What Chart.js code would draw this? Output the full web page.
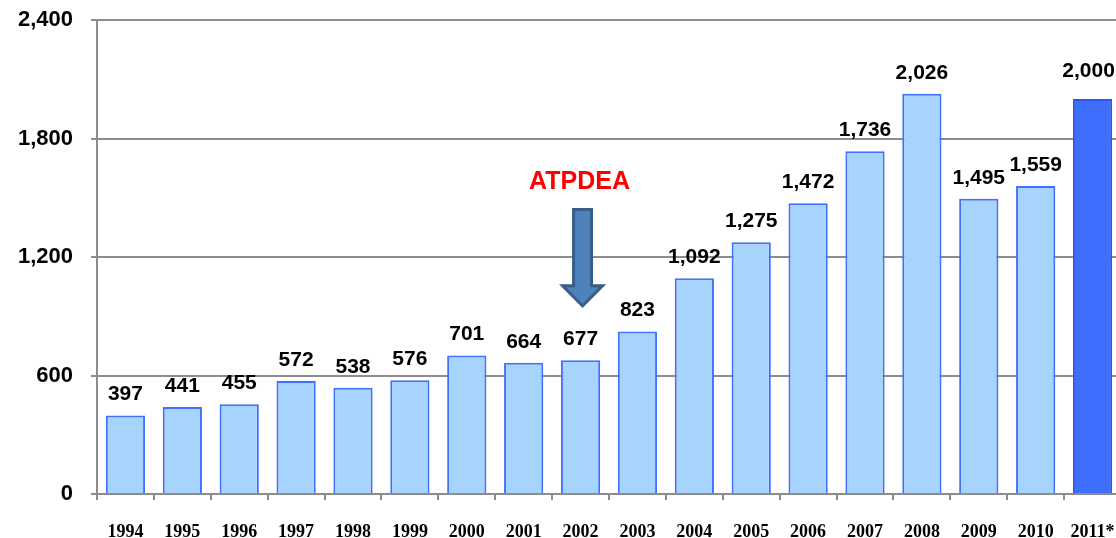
<!DOCTYPE html>
<html>
<head>
<meta charset="utf-8">
<script src="https://cdn.jsdelivr.net/npm/chart.js@4"></script>
<style>
  html, body { margin: 0; padding: 0; background: #fff; }
  #wrap { width: 1116px; height: 538px; overflow: hidden; }
  #inner { width: 1121px; height: 538px; }
</style>
</head>
<body>
<div id="wrap"><div id="inner"><canvas id="exportsChart"></canvas></div></div>
<script>
const years = ["1994", "1995", "1996", "1997", "1998", "1999", "2000", "2001", "2002",
  "2003", "2004", "2005", "2006", "2007", "2008", "2009", "2010", "2011*"];
const exportValues = [397, 441, 455, 572, 538, 576, 701, 664, 677,
  823, 1092, 1275, 1472, 1736, 2026, 1495, 1559, 2000];
const yTicks = [0, 600, 1200, 1800, 2400];
const noteLabel = "ATPDEA";
const noteYear = "2002";

const lightFill = "#a6d4fc";
const lightBorder = "#4170ff";
const darkFill = "#3f6fff";
const darkBorder = "#2f55f0";
const lastIdx = years.length - 1;

const fmt = (v) => v.toLocaleString("en-US");

// numbers above each bar
const valueLabels = {
  id: "valueLabels",
  afterDatasetsDraw(chart) {
    const ctx = chart.ctx;
    const meta = chart.getDatasetMeta(0);
    ctx.save();
    ctx.font = "bold 21px 'Liberation Sans', Arial, sans-serif";
    ctx.fillStyle = "#000";
    ctx.textAlign = "center";
    ctx.textBaseline = "middle";
    meta.data.forEach((bar, i) => {
      const last = i === lastIdx;
      ctx.fillText(fmt(exportValues[i]), last ? bar.x - 4 : bar.x, bar.y - (last ? 28 : 21));
    });
    ctx.restore();
  },
};

// red label + down arrow over 2002
const noteArrow = {
  id: "noteArrow",
  afterDatasetsDraw(chart) {
    const ctx = chart.ctx;
    const x = chart.scales.x;
    const y = chart.scales.y;
    const cx = x.getPixelForValue(years.indexOf(noteYear)) + 2;
    const top = y.getPixelForValue(1440);
    const headTop = y.getPixelForValue(1055);
    const tip = y.getPixelForValue(952);
    ctx.save();
    ctx.font = "bold 25px 'Liberation Sans', Arial, sans-serif";
    ctx.fillStyle = "#ff0000";
    ctx.textAlign = "center";
    ctx.textBaseline = "middle";
    ctx.fillText(noteLabel, cx - 3, y.getPixelForValue(1578));

    ctx.beginPath();
    ctx.moveTo(cx - 9, top);
    ctx.lineTo(cx + 9, top);
    ctx.lineTo(cx + 9, headTop);
    ctx.lineTo(cx + 20, headTop);
    ctx.lineTo(cx, tip);
    ctx.lineTo(cx - 20, headTop);
    ctx.lineTo(cx - 9, headTop);
    ctx.closePath();
    ctx.fillStyle = "#4f81bd";
    ctx.fill();
    ctx.lineWidth = 3;
    ctx.strokeStyle = "#385d8a";
    ctx.stroke();
    ctx.restore();
  },
};

new Chart(document.getElementById("exportsChart"), {
  type: "bar",
  data: {
    labels: years,
    datasets: [
      {
        data: exportValues,
        backgroundColor: years.map((_, i) => (i === lastIdx ? darkFill : lightFill)),
        borderColor: years.map((_, i) => (i === lastIdx ? darkBorder : lightBorder)),
        borderWidth: 2,
        borderSkipped: "bottom",
        categoryPercentage: 1,
        barPercentage: 0.69,
      },
    ],
  },
  options: {
    responsive: true,
    maintainAspectRatio: false,
    animation: false,
    layout: { padding: { top: 20, right: 0, bottom: 0, left: 0 } },
    plugins: {
      legend: { display: false },
      tooltip: { enabled: false },
    },
    scales: {
      x: {
        grid: {
          offset: true,
          drawOnChartArea: false,
          drawTicks: true,
          tickLength: 6,
          color: "#8c8c8c",
          lineWidth: 2,
        },
        border: { color: "#8c8c8c", width: 2 },
        ticks: {
          color: "#000",
          padding: 22,
          maxRotation: 0,
          autoSkip: false,
          font: { family: "'Liberation Serif', 'DejaVu Serif', serif", size: 18, weight: "bold" },
        },
        afterFit(scale) {
          scale.height = 44;
          scale.paddingLeft = 0;
          scale.paddingRight = 0;
        },
      },
      y: {
        min: 0,
        max: 2400,
        afterBuildTicks(scale) {
          scale.ticks = yTicks.map((v) => ({ value: v }));
        },
        grid: {
          color: "#8c8c8c",
          lineWidth: 2,
          drawTicks: true,
          tickLength: 6,
        },
        border: { color: "#8c8c8c", width: 2 },
        ticks: {
          color: "#000",
          padding: 18,
          callback: (v) => fmt(v),
          font: { family: "'Liberation Sans', Arial, sans-serif", size: 22, weight: "bold" },
        },
        afterFit(scale) {
          scale.width = 97;
          scale.paddingTop = 0;
          scale.paddingBottom = 0;
        },
      },
    },
  },
  plugins: [valueLabels, noteArrow],
});
</script>
</body>
</html>
